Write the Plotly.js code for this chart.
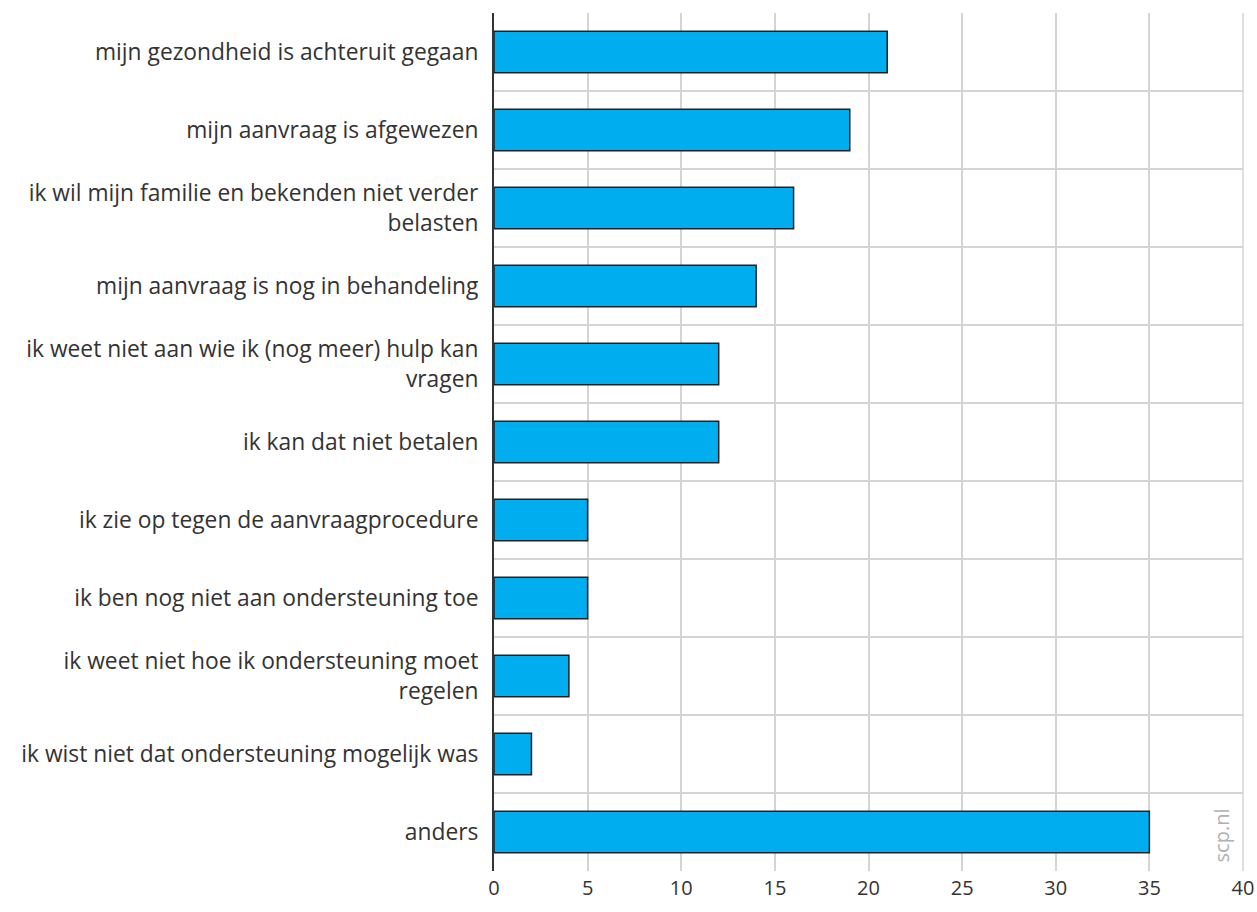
<!DOCTYPE html>
<html><head><meta charset="utf-8">
<script src="https://cdn.plot.ly/plotly-3.0.1.min.js"></script>
<style>html,body{margin:0;padding:0;background:#fff}</style>
</head><body>
<div id="chart" style="width:1257px;height:912px"></div>
<script>
const categories = [
  "mijn gezondheid is achteruit gegaan",
  "mijn aanvraag is afgewezen",
  "ik wil mijn familie en bekenden niet verder<br>belasten",
  "mijn aanvraag is nog in behandeling",
  "ik weet niet aan wie ik (nog meer) hulp kan<br>vragen",
  "ik kan dat niet betalen",
  "ik zie op tegen de aanvraagprocedure",
  "ik ben nog niet aan ondersteuning toe",
  "ik weet niet hoe ik ondersteuning moet<br>regelen",
  "ik wist niet dat ondersteuning mogelijk was",
  "anders"
];
const values = [21, 19, 16, 14, 12, 12, 5, 5, 4, 2, 35];
const xTicks = [0, 5, 10, 15, 20, 25, 30, 35, 40];

const trace = {
  type: "bar",
  orientation: "h",
  y: categories,
  x: values,
  width: 0.53,
  marker: {color: "#00aeef", line: {color: "#222222", width: 1.5}},
  hoverinfo: "x+y"
};

const layout = {
  width: 1257, height: 912,
  margin: {l: 494, r: 14, t: 13, b: 41},
  paper_bgcolor: "#fff", plot_bgcolor: "#fff",
  showlegend: false,
  font: {family: "Open Sans, sans-serif", color: "#333333", size: 22},
  xaxis: {
    range: [0, 40], tickvals: xTicks, ticktext: xTicks.map(String),
    showgrid: true, gridcolor: "#d4d4d4", gridwidth: 1.5,
    zeroline: false, showline: false, ticks: "",
    tickfont: {family: "Open Sans, sans-serif", size: 20, color: "#333333"},
    ticklabelstandoff: 3
  },
  yaxis: {
    type: "category", autorange: "reversed",
    tickson: "boundaries", showgrid: true, gridcolor: "#d4d4d4", gridwidth: 1.5,
    showline: true, linecolor: "#333333", linewidth: 2,
    ticks: "", ticklabelstandoff: 9,
    tickfont: {family: "Open Sans, sans-serif", size: 22.8, color: "#333333"}
  },
  shapes: [
    {type: "line", xref: "paper", yref: "paper", x0: 1, x1: 1, y0: 0, y1: 1,
     line: {color: "#d4d4d4", width: 1.5}}
  ],
  annotations: [
    {text: "scp.nl", xref: "paper", yref: "paper", x: 0.971, y: 0.008,
     xanchor: "center", yanchor: "bottom", showarrow: false, textangle: -90,
     font: {family: "Open Sans, sans-serif", size: 20, color: "#b0b0b0"}}
  ]
};

Plotly.newPlot("chart", [trace], layout, {displayModeBar: false, responsive: false});
</script>
</body></html>
